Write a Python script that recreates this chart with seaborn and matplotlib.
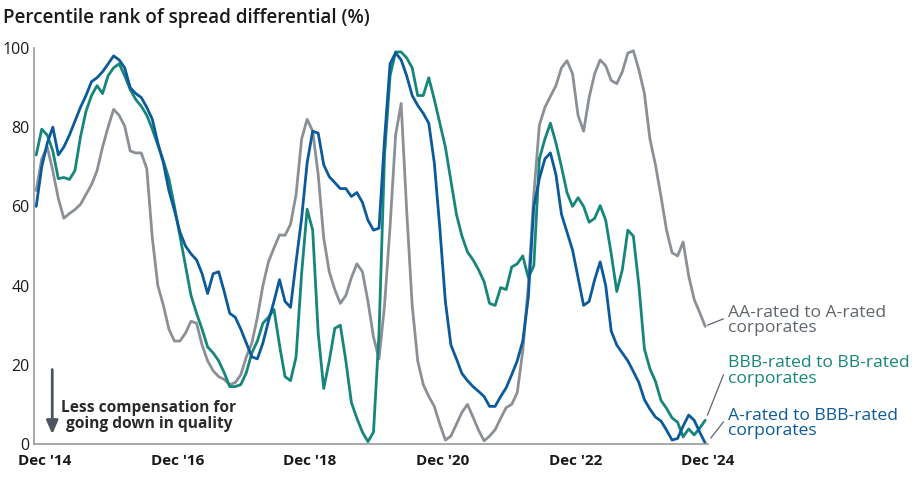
import numpy as np
import pandas as pd
import seaborn as sns
import matplotlib.pyplot as plt

# Percentile rank of spread differential (%), monthly, late 2014 - Dec 2024
aa_to_a = [64, 72, 75, 69, 62, 57, 58.2, 59.2, 60.5, 63, 65.5, 69, 75, 80, 84.5, 83, 80.3, 74, 73.5, 73.5,
           69.5, 52, 40, 35, 29, 26, 26, 28, 31, 30.5, 25, 21, 18.5, 17, 16.3, 15, 15.5, 17.5, 22, 25.5,
           32, 40, 46, 49.5, 52.8, 52.7, 55.5, 63, 77, 82, 79, 68, 52, 43.5, 39, 35.5, 37.5, 42, 45.5, 43.5,
           36, 27, 21.5, 35, 55, 78, 86, 59, 35, 21, 15, 12, 9.5, 5, 1, 2, 5, 8, 10, 6.8,
           3.5, 0.8, 2, 3.6, 6.5, 9.2, 10, 13, 23.5, 40, 63, 80.5, 85, 87.8, 90.5, 95, 96.8, 93.5, 83, 79,
           87.5, 93.5, 97, 95.5, 91.8, 91, 94, 98.7, 99.3, 94.5, 88.5, 77, 70.5, 62.5, 54, 48.3, 47.5, 51, 42.5, 36.5,
           33.2, 29.7]
bbb_to_bb = [73, 79.5, 78, 74, 67, 67.3, 66.8, 69, 77.5, 84, 88, 90.5, 88.5, 93, 95, 96, 93, 89.5, 87, 85.3,
             83, 79.5, 75.5, 71.5, 67, 60, 52.5, 45, 37.5, 33, 29, 24.5, 23, 21, 18, 14.5, 14.5, 15, 18, 23,
             26, 30.5, 32, 34, 25, 17, 16, 22, 43, 59.3, 54, 28, 14, 21, 29.2, 30, 21, 10.5, 6.5, 3,
             0.6, 3, 28, 73, 93, 99, 99, 97.5, 95, 88, 88, 92.5, 87, 81, 75, 66.5, 58, 52.5, 48.5, 46.5,
             44, 41, 35.5, 35, 39.5, 39, 44.7, 45.5, 47.5, 42, 45, 72, 77, 81, 76, 70, 63.5, 60, 62.2, 60,
             56, 57, 60.2, 56.5, 48, 38.5, 44, 54, 52.5, 40, 24, 19, 15.8, 11, 9, 6.6, 5.5, 1.8, 3.8, 2.3,
             4, 6]
a_to_bbb = [60, 70, 76, 80, 73, 75, 78, 81.5, 85, 88, 91.5, 92.5, 94, 96, 98, 97, 95, 90, 88.5, 87.5,
            85, 82, 76, 71, 64, 59, 53.5, 50, 48, 46.5, 43, 38, 43, 43.5, 38.5, 33, 32, 29, 25.5, 22,
            21.5, 25.5, 31, 36, 41.5, 36, 34.5, 46, 57, 71, 79, 78.5, 70.5, 67.5, 66, 64.5, 64.5, 62.5, 63.5, 61,
            56.5, 54, 54.5, 77, 96, 98.8, 97, 93, 88, 85.5, 83.5, 81, 71, 54.5, 36, 25, 21.5, 17.8, 16, 14.5,
            13.3, 12, 9.5, 9.5, 12, 14.2, 17.5, 21, 26, 37, 60, 67, 72, 73.5, 68, 58, 53.5, 49, 42, 35,
            36, 41.5, 46, 40, 28.5, 25, 23, 21, 18.3, 15.5, 11.2, 8.8, 6.8, 5.8, 3.5, 1, 1.4, 4.5, 7.3, 6,
            3, 0.2]
tick_labels = ["Dec '14", "Dec '16", "Dec '18", "Dec '20", "Dec '22", "Dec '24"]
series_names = ["AA-rated to A-rated\ncorporates",
                "BBB-rated to BB-rated\ncorporates",
                "A-rated to BBB-rated\ncorporates"]
colors = ["#8b9096", "#16857a", "#0a5a9c"]

month = np.arange(len(a_to_bbb))
df = pd.DataFrame({
    "month": np.tile(month, 3),
    "value": aa_to_a + bbb_to_bb + a_to_bbb,
    "series": np.repeat(series_names, len(month)),
})

sns.set_style("white")
plt.rcParams["font.family"] = ["Open Sans", "DejaVu Sans"]

fig = plt.figure(figsize=(9.16, 4.8), dpi=100)
ax = fig.add_axes([34 / 916, 36 / 480, 674 / 916, 396 / 480])

sns.lineplot(data=df, x="month", y="value", hue="series", palette=dict(zip(series_names, colors)),
             linewidth=2.0, legend=False, ax=ax)

ax.set_xlim(-0.4, 121.4)
ax.set_ylim(0, 100)
ax.set_xticks([1.5, 25.5, 49.5, 73.5, 97.5, 121.5])
ax.set_xticklabels(tick_labels, fontsize=11, fontweight="bold", color="#1a1a1a")
ax.set_yticks([0, 20, 40, 60, 80, 100])
ax.set_yticklabels(["0", "20", "40", "60", "80", "100"], fontsize=11.5, color="#1a1a1a")
ax.tick_params(axis="both", length=0)
ax.tick_params(axis="y", pad=3)
ax.tick_params(axis="x", pad=7)
ax.set_xlabel("")
ax.set_ylabel("")
for side in ["top", "right"]:
    ax.spines[side].set_visible(False)
for side in ["left", "bottom"]:
    ax.spines[side].set_color("#9a9a9a")
    ax.spines[side].set_linewidth(1.2)

fig.text(3 / 916, 1 - 18 / 480, "Percentile rank of spread differential (%)", fontsize=13.6,
         fontweight="semibold", color="#1a1a1a", va="center", ha="left")

# "less compensation" arrow and note
ax.annotate("", xy=(2.9, 1.8), xytext=(2.9, 19.5),
            arrowprops=dict(arrowstyle="-|>,head_width=0.35,head_length=0.8", color="#4a5560", lw=2))
ax.text(20.4, 7.1, "Less compensation for\ngoing down in quality", fontsize=11.2, fontweight="bold",
        color="#2a2a2a", ha="center", va="center", linespacing=1.05)

# end labels with leader lines
label_y = [31.2, 18.4, 5.2]
anchors = [(121.4, 30.0), (121.4, 7.3), (122.0, 1.5)]
ends = [(124.3, 31.6), (124.3, 17.5), (124.3, 5.6)]
for name, col, ly, (ax0, ay0), (ax1, ay1) in zip(series_names, colors, label_y, anchors, ends):
    ax.plot([ax0, ax1], [ay0, ay1], color="#5f656c", lw=0.9, clip_on=False)
    tcol = "#60666d" if col == colors[0] else col
    ax.text(125.2, ly, name, fontsize=12.6, color=tcol, ha="left", va="center", linespacing=0.95)

fig.savefig("out.png", dpi=100)
